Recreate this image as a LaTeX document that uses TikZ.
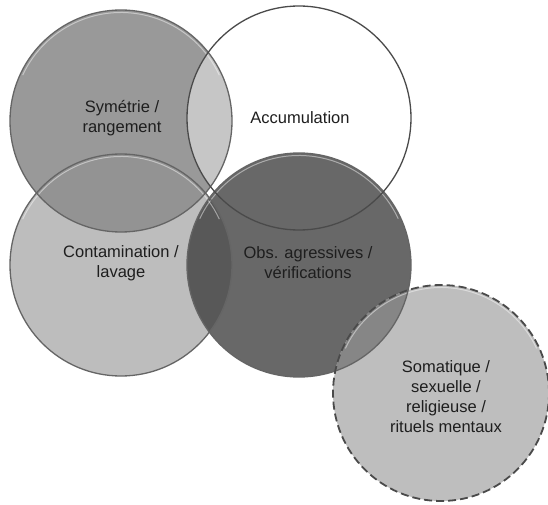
\documentclass[tikz,border=0pt]{standalone}
\usepackage{fontspec}
\setmainfont{Liberation Sans}
\definecolor{symfill}{HTML}{999999}
\definecolor{contfill}{HTML}{BDBDBD}
\definecolor{obsfill}{HTML}{686868}
\definecolor{somfill}{HTML}{BEBEBE}
\definecolor{symacc}{HTML}{C6C6C6}
\definecolor{symcont}{HTML}{939393}
\definecolor{contobs}{HTML}{585858}
\definecolor{obssom}{HTML}{868686}
\definecolor{edge}{HTML}{4A4A4A}
\definecolor{txt}{HTML}{1E1E1E}
\tikzset{
  label/.style={text=txt, align=center, font=\fontsize{16.5}{20}\selectfont},
  rim/.style={draw=edge, line width=1.3pt},
  gloss/.style={draw=white, line width=1pt, opacity=0.45},
}
\begin{document}
\begin{tikzpicture}[x=1pt,y=-1pt]
\useasboundingbox (0,0) rectangle (548,505);
\fill[white] (0,0) rectangle (548,505);
\coordinate (cS) at (121,121);
\coordinate (cA) at (299,118);
\coordinate (cC) at (121,265);
\coordinate (cO) at (299,265);
\coordinate (cM) at (441,393);
% base fills
\fill[contfill] (cC) circle (111pt);
\fill[symfill] (cS) circle (111pt);
\fill[obsfill] (cO) circle (112pt);
\fill[somfill] (cM) circle (108pt);
% overlaps
\begin{scope}\clip (cS) circle (111pt); \fill[symacc] (cA) circle (112pt);\end{scope}
\begin{scope}\clip (cS) circle (111pt); \fill[symcont] (cC) circle (111pt);\end{scope}
\begin{scope}\clip (cC) circle (111pt); \fill[contobs] (cO) circle (112pt);\end{scope}
\begin{scope}\clip (cO) circle (112pt); \fill[obssom] (cM) circle (108pt);\end{scope}
% gloss highlights
\draw[gloss] (cS) ++(25:108.5pt) arc[start angle=25,end angle=155,radius=108.5pt];
\draw[gloss] (cC) ++(25:108.5pt) arc[start angle=25,end angle=155,radius=108.5pt];
\draw[gloss] (cO) ++(25:109.5pt) arc[start angle=25,end angle=155,radius=109.5pt];
\draw[gloss] (cM) ++(25:105.5pt) arc[start angle=25,end angle=155,radius=105.5pt];
% outlines
\draw[rim, draw=edge!85] (cC) circle (111pt);
\draw[rim, draw=edge!85] (cS) circle (111pt);
\draw[rim, draw=edge!85] (cO) circle (112pt);
\draw[rim] (cA) circle (112pt);
\draw[draw=edge, line width=1.8pt, dash pattern=on 8pt off 4pt] (cM) circle (108pt);
% labels
\node[label] (tS) at (122,118) {Symétrie /\\rangement};
\node[label] (tA) at (300,118) {Accumulation};
\node[label] (tC) at (121,263) {Contamination /\\lavage};
\node[label] (tO) at (308,263) {Obs. agressives /\\vérifications};
\node[label] (tM) at (446,397) {Somatique /\\sexuelle /\\religieuse /\\rituels mentaux};
\end{tikzpicture}
\end{document}
